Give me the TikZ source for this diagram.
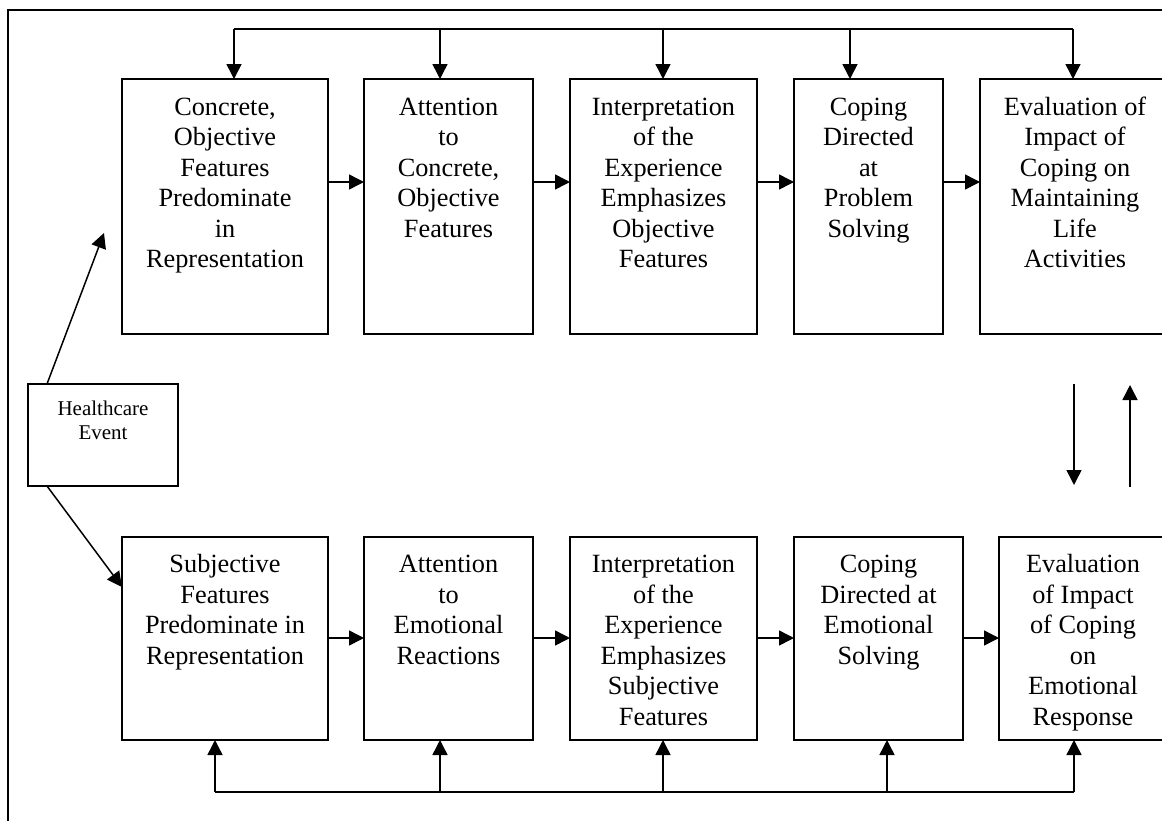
\documentclass[tikz,border=0pt]{standalone}
\usepackage{fontspec}
\setmainfont{Liberation Serif}
\usetikzlibrary{arrows.meta,calc}
\newcommand{\bigtxt}{\fontsize{26.3}{30.5}\selectfont}
\newcommand{\smalltxt}{\fontsize{21}{24.5}\selectfont}
\newcommand{\inbox}[4]{\parbox[c][#2][t]{#1}{\centering\rule{0pt}{#3}#4\par}}
\tikzset{
  boxnode/.style={draw, line width=1.6pt, inner sep=0pt, outer sep=0pt, anchor=north west},
  conn/.style={line width=1.5pt},
  arr/.style={line width=1.5pt, -{Triangle[length=15pt,width=15pt]}}
}
\begin{document}
\begin{tikzpicture}[x=1pt,y=-1pt]
\useasboundingbox (0,0) rectangle (1162,820);
\fill[white] (0,0) rectangle (1162,820);
\clip (0,0) rectangle (1162,820);
% outer frame
\draw[conn] (8,10) rectangle (1300,1000);

% top row
\node[boxnode] (a1) at (122,79) {\bigtxt\inbox{206pt}{255pt}{36pt}{Concrete,\\Objective\\Features\\Predominate\\in\\Representation}};
\node[boxnode] (a2) at (364,79) {\bigtxt\inbox{169pt}{255pt}{36pt}{Attention\\to\\Concrete,\\Objective\\Features}};
\node[boxnode] (a3) at (570,79) {\bigtxt\inbox{187pt}{255pt}{36pt}{Interpretation\\of the\\Experience\\Emphasizes\\Objective\\Features}};
\node[boxnode] (a4) at (794,79) {\bigtxt\inbox{149pt}{255pt}{36pt}{Coping\\Directed\\at\\Problem\\Solving}};
\node[boxnode] (a5) at (980,79) {\bigtxt\inbox{190pt}{255pt}{36pt}{Evaluation of\\Impact of\\Coping on\\Maintaining\\Life\\Activities}};

% bottom row
\node[boxnode] (b1) at (122,537) {\bigtxt\inbox{206pt}{203pt}{35.5pt}{Subjective\\Features\\Predominate in\\Representation}};
\node[boxnode] (b2) at (364,537) {\bigtxt\inbox{169pt}{203pt}{35.5pt}{Attention\\to\\Emotional\\Reactions}};
\node[boxnode] (b3) at (570,537) {\bigtxt\inbox{187pt}{203pt}{35.5pt}{Interpretation\\of the\\Experience\\Emphasizes\\Subjective\\Features}};
\node[boxnode] (b4) at (794,537) {\bigtxt\inbox{169pt}{203pt}{35.5pt}{Coping\\Directed at\\Emotional\\Solving}};
\node[boxnode] (b5) at (999,537) {\bigtxt\inbox{168pt}{203pt}{35.5pt}{Evaluation\\of Impact\\of Coping\\on\\Emotional\\Response}};

% healthcare event
\node[boxnode] (he) at (28,384) {\smalltxt\inbox{150pt}{102pt}{31pt}{Healthcare\\Event}};

% horizontal arrows, top row
\foreach \p/\q in {a1/a2,a2/a3,a3/a4,a4/a5}
  \draw[arr] ($(\p.north east)+(0,103)$) -- ($(\q.north west)+(0,103)$);
% horizontal arrows, bottom row
\foreach \p/\q in {b1/b2,b2/b3,b3/b4,b4/b5}
  \draw[arr] ($(\p.north east)+(0,101)$) -- ($(\q.north west)+(0,101)$);

% top feedback bus
\coordinate (t1) at (234,29);
\coordinate (t2) at (440,29);
\coordinate (t3) at (663,29);
\coordinate (t4) at (850,29);
\coordinate (t5) at (1073,29);
\draw[conn] (t1) -- (t5);
\draw[arr] (t1) -- (t1 |- a1.north);
\draw[arr] (t2) -- (t2 |- a2.north);
\draw[arr] (t3) -- (t3 |- a3.north);
\draw[arr] (t4) -- (t4 |- a4.north);
\draw[arr] (t5) -- (t5 |- a5.north);

% bottom feedback bus
\coordinate (u1) at (215,792);
\coordinate (u2) at (440,792);
\coordinate (u3) at (663,792);
\coordinate (u4) at (887,792);
\coordinate (u5) at (1074,792);
\draw[conn] (u1) -- (u5);
\draw[arr] (u1) -- (u1 |- b1.south);
\draw[arr] (u2) -- (u2 |- b2.south);
\draw[arr] (u3) -- (u3 |- b3.south);
\draw[arr] (u4) -- (u4 |- b4.south);
\draw[arr] (u5) -- (u5 |- b5.south);

% healthcare arrows
\coordinate (hup) at (104,233);
\draw[arr] ($(he.north west)+(19,0)$) -- (hup);
\draw[arr] ($(he.south west)+(19,0)$) -- ($(b1.north west)+(0,50)$);

% vertical arrows between the evaluation boxes
\coordinate (d1) at (1074,384);
\coordinate (d2) at (1074,485);
\coordinate (p1) at (1130,487);
\coordinate (p2) at (1130,385);
\draw[arr] (d1) -- (d2);
\draw[arr] (p1) -- (p2);
\end{tikzpicture}
\end{document}
